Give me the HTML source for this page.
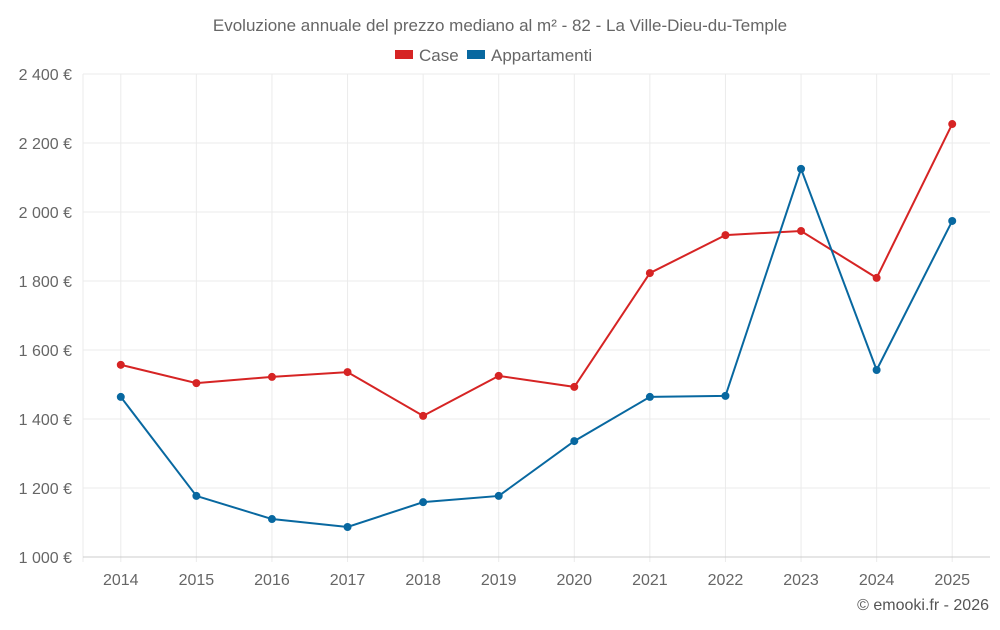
<!DOCTYPE html>
<html><head><meta charset="utf-8">
<style>
body{margin:0;background:#fff;font-family:"Liberation Sans",sans-serif;}
svg text{font-family:"Liberation Sans",sans-serif;}
</style></head>
<body>
<svg id="chart" width="1000" height="625" viewBox="0 0 1000 625" xmlns="http://www.w3.org/2000/svg">
<text x="500" y="31" text-anchor="middle" font-size="17" fill="#666">Evoluzione annuale del prezzo mediano al m² - 82 - La Ville-Dieu-du-Temple</text>
<g>
<rect x="395" y="50" width="18" height="9" fill="#d62424"/>
<text x="419" y="61" font-size="17" fill="#666">Case</text>
<rect x="467" y="50" width="18" height="9" fill="#0868a0"/>
<text x="491" y="61" font-size="17" fill="#666">Appartamenti</text>
</g>
<g id="grid"></g><g id="axes"></g><g id="series"></g>
<text x="989" y="610" text-anchor="end" font-size="16" fill="#555">© emooki.fr - 2026</text>
</svg>
<script>
const years=["2014","2015","2016","2017","2018","2019","2020","2021","2022","2023","2024","2025"];
const caseValues=[1557,1504,1522,1536,1409,1525,1493,1823,1933,1945,1809,2255];
const apptValues=[1464,1177,1110,1087,1159,1177,1336,1464,1467,2125,1542,1974];
const yTicks=[1000,1200,1400,1600,1800,2000,2200,2400];
const tickLabels=["1 000 €","1 200 €","1 400 €","1 600 €","1 800 €","2 000 €","2 200 €","2 400 €"];
const NS="http://www.w3.org/2000/svg";
const x0=83,x1=990,yb=557,yt=74;
const step=(x1-x0)/years.length;
const xS=i=>x0+step*(i+0.5);
const yS=v=>yb-(v-1000)/(2400-1000)*(yb-yt);
function mk(t,a,p){const e=document.createElementNS(NS,t);for(const k in a)e.setAttribute(k,a[k]);p.appendChild(e);return e;}
const grid=document.getElementById('grid'),axes=document.getElementById('axes'),ser=document.getElementById('series');
const le=mk('line',{x1:x0,x2:x0,y1:yt,y2:yb+5,stroke:'#ebebeb'},grid);


years.forEach((y,i)=>{
 const l=mk('line',{x1:xS(i),x2:xS(i),y1:yt,y2:yb+5,stroke:'#ebebeb'},grid);
 
 
});
yTicks.forEach((v,i)=>{
 const l=mk('line',{x1:x0,x2:x1,y1:yS(v),y2:yS(v),stroke:i==0?'#ccc':'#ebebeb'},grid);
 
 
 const t=mk('text',{x:72,y:yS(v)+6,'text-anchor':'end','font-size':16,fill:'#666'},axes);
 t.textContent=tickLabels[i];
 
 
});
years.forEach((y,i)=>{
 const t=mk('text',{x:xS(i),y:585,'text-anchor':'middle','font-size':16,fill:'#666'},axes);
 t.textContent=y;
 
 
});
function draw(vals,color,name){
 const p=mk('polyline',{points:vals.map((v,i)=>xS(i)+','+yS(v)).join(' '),fill:'none',stroke:color,'stroke-width':2},ser);
 
 
 vals.forEach((v,i)=>{
  const c=mk('circle',{cx:xS(i),cy:yS(v),r:4,fill:color},ser);
  
  
 });
}
draw(caseValues,'#d62424','case');
draw(apptValues,'#0868a0','appartamenti');
</script>
</body></html>
